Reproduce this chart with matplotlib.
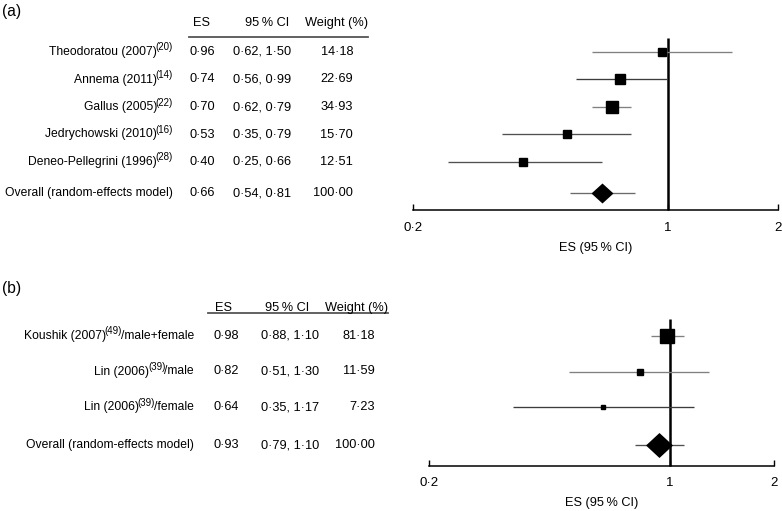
import numpy as np
import matplotlib
matplotlib.use("Agg")
import matplotlib.pyplot as plt
from matplotlib.transforms import blended_transform_factory, offset_copy

plt.rcParams['font.family'] = ['Liberation Sans', 'DejaVu Sans']

# ---------------- data ----------------
a_labels = ["Theodoratou (2007)", "Annema (2011)", "Gallus (2005)",
            "Jedrychowski (2010)", "Deneo-Pellegrini (1996)",
            "Overall (random-effects model)"]
a_refs = ["20", "14", "22", "16", "28", ""]
a_es = [0.96, 0.74, 0.70, 0.53, 0.40, 0.66]
a_lo = [0.62, 0.56, 0.62, 0.35, 0.25, 0.54]
a_hi = [1.50, 0.99, 0.79, 0.79, 0.66, 0.81]
a_weight = [14.18, 22.69, 34.93, 15.70, 12.51, 100.00]

b_labels = ["Koushik (2007)", "Lin (2006)", "Lin (2006)",
            "Overall (random-effects model)"]
b_refs = ["49", "39", "39", ""]
b_suffix = ["/male+female", "/male", "/female", ""]
b_es = [0.98, 0.82, 0.64, 0.93]
b_lo = [0.88, 0.51, 0.35, 0.79]
b_hi = [1.10, 1.30, 1.17, 1.10]
b_weight = [81.18, 11.59, 7.23, 100.00]

x_ticks = [0.2, 1, 2]
x_ticklabels = ["0\u00b72", "1", "2"]

W, H = 782, 511
fig = plt.figure(figsize=(W / 100, H / 100), dpi=100)
renderer = fig.canvas.get_renderer()
FS = 9.2      # numbers / headers
LFS = 8.7     # study labels
SFS = 7.0     # superscripts


def fmt(v):
    return f"{v:.2f}".replace(".", "\u00b7")


def panel(labels, refs, suffix, es, lo, hi, weight, ax_left, ax_right, ax_top,
          ax_bottom, row_gap, last_gap, first_row_px, vline_top_px,
          max_sq_px, diamond_px, line_colors, label_right, es_left, ci_left,
          w_right, hdr_es, hdr_ci, hdr_w, hdr_y, ul_x0, ul_x1, ul_y, tag,
          tag_y, tick_y, xlab_y):
    n = len(labels)
    ypos = np.arange(n, dtype=float)
    ypos[-1] = (n - 2) + last_gap / row_gap
    ax = fig.add_axes([ax_left / W, 1 - ax_bottom / H,
                       (ax_right - ax_left) / W, (ax_bottom - ax_top) / H])
    top_val = -(first_row_px - ax_top) / row_gap
    bot_val = ypos[-1] + (ax_bottom - (first_row_px + ypos[-1] * row_gap)) / row_gap
    ax.set_ylim(bot_val, top_val)
    ax.set_xscale('log')
    ax.set_xlim(0.2, 2)
    for s in ['top', 'left', 'right']:
        ax.spines[s].set_visible(False)
    ax.spines['bottom'].set_linewidth(1.1)
    ax.set_yticks([])
    ax.set_xticks(x_ticks)
    ax.set_xticklabels([])
    ax.minorticks_off()
    ax.tick_params(axis='x', direction='in', length=4, width=1.0)
    ax.patch.set_alpha(0)
    trx = blended_transform_factory(ax.transData, fig.transFigure)
    for t, lab in zip(x_ticks, x_ticklabels):
        ax.text(t, 1 - tick_y / H, lab, transform=trx, ha='center',
                va='center', fontsize=FS + 0.3)
    fig.text((ax_left + ax_right) / 2 / W, 1 - xlab_y / H,
             "ES (95\u2009% CI)", ha='center', va='center', fontsize=FS)

    vtop = -(first_row_px - vline_top_px) / row_gap
    ax.plot([1, 1], [bot_val, vtop], color='black', lw=1.8, zorder=2,
            solid_capstyle='butt', clip_on=False)

    wmax = max(weight[:-1])
    for i in range(n):
        ax.plot([lo[i], hi[i]], [ypos[i], ypos[i]], color=line_colors[i],
                lw=0.95, zorder=3, solid_capstyle='butt')
        if i < n - 1:
            side = max_sq_px * np.sqrt(weight[i] / wmax)
            ax.plot(es[i], ypos[i], marker='s', color='black',
                    markersize=side / 1.389, zorder=4, linestyle='none')
        else:
            dw, dh = diamond_px
            verts = [(0, dh / dw), (1, 0), (0, -dh / dw), (-1, 0), (0, dh / dw)]
            ax.plot(es[i], ypos[i], marker=verts, color='black',
                    markersize=dw / 1.389, zorder=4, linestyle='none',
                    markeredgewidth=0)

    tr = blended_transform_factory(fig.transFigure, ax.transData)
    for i in range(n):
        # right-aligned label built from pieces: main + superscript + suffix
        off = 0.0
        if suffix[i]:
            t = ax.text(label_right / W, ypos[i], suffix[i], transform=tr,
                        ha='right', va='center', fontsize=LFS, clip_on=False)
            off += t.get_window_extent(renderer).width - 1.0
        if refs[i]:
            trs = offset_copy(tr, fig=fig, x=-off * 72 / 100,
                              y=4.5 * 72 / 100, units='points')
            t = ax.text(label_right / W, ypos[i], "(" + refs[i] + ")",
                        transform=trs, ha='right', va='center', fontsize=SFS,
                        clip_on=False)
            off += t.get_window_extent(renderer).width - 1.5
        trm = offset_copy(tr, fig=fig, x=-off * 72 / 100, y=0, units='points')
        ax.text(label_right / W, ypos[i], labels[i], transform=trm,
                ha='right', va='center', fontsize=LFS, clip_on=False)

        ax.text(es_left / W, ypos[i], fmt(es[i]), transform=tr, ha='left',
                va='center', fontsize=FS, clip_on=False)
        ax.text(ci_left / W, ypos[i], fmt(lo[i]) + ", " + fmt(hi[i]),
                transform=tr, ha='left', va='center', fontsize=FS,
                clip_on=False)
        ax.text(w_right / W, ypos[i], fmt(weight[i]), transform=tr,
                ha='right', va='center', fontsize=FS, clip_on=False)
    fig.text(hdr_es / W, 1 - hdr_y / H, "ES", ha='center', va='center',
             fontsize=FS)
    fig.text(hdr_ci / W, 1 - hdr_y / H, "95\u2009% CI", ha='center',
             va='center', fontsize=FS)
    fig.text(hdr_w / W, 1 - hdr_y / H, "Weight (%)", ha='center',
             va='center', fontsize=FS)
    fig.add_artist(plt.Line2D([ul_x0 / W, ul_x1 / W], [1 - ul_y / H, 1 - ul_y / H],
                              transform=fig.transFigure, color='#555555', lw=1.3))
    fig.text(2 / W, 1 - tag_y / H, tag, ha='left', va='center',
             fontsize=FS + 2)


LIGHT = '#808080'
DARK = '#3c3c3c'

panel(a_labels, a_refs, [""] * len(a_labels), a_es, a_lo, a_hi, a_weight,
      ax_left=413, ax_right=778, ax_top=30, ax_bottom=210,
      row_gap=27.5, last_gap=31, first_row_px=52, vline_top_px=38,
      max_sq_px=12, diamond_px=(22, 20),
      line_colors=[LIGHT, DARK, LIGHT, '#505050', '#505050', '#6a6a6a'],
      label_right=173, es_left=189, ci_left=233, w_right=353,
      hdr_es=202, hdr_ci=267, hdr_w=337, hdr_y=23, ul_x0=189, ul_x1=368,
      ul_y=37, tag="(a)", tag_y=11, tick_y=228, xlab_y=248)

panel(b_labels, b_refs, b_suffix, b_es, b_lo, b_hi, b_weight,
      ax_left=429, ax_right=774, ax_top=300, ax_bottom=466,
      row_gap=35.5, last_gap=38, first_row_px=336, vline_top_px=319,
      max_sq_px=14, diamond_px=(27, 25),
      line_colors=[LIGHT, LIGHT, DARK, '#505050'],
      label_right=194, es_left=214, ci_left=261, w_right=375,
      hdr_es=224, hdr_ci=287, hdr_w=357, hdr_y=308, ul_x0=208, ul_x1=388,
      ul_y=313, tag="(b)", tag_y=288, tick_y=483, xlab_y=503)

fig.savefig("out.png", dpi=100, facecolor='white')
